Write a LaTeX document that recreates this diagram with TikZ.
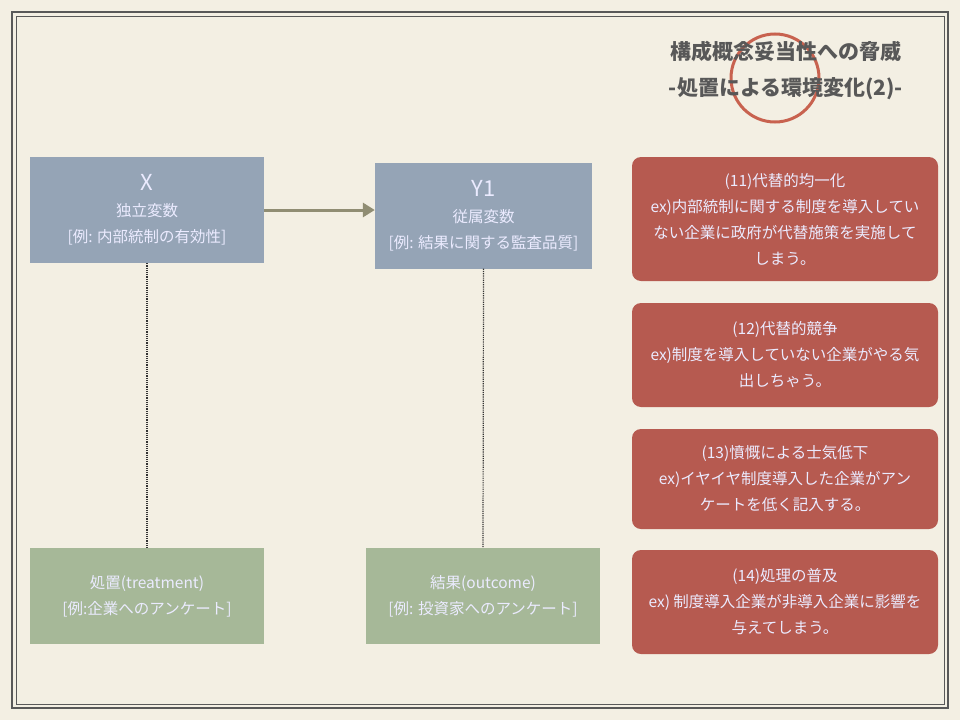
\documentclass[tikz,border=0pt]{standalone}
\usepackage{fontspec}
\setmainfont{Liberation Serif}
\newfontfamily\jpfont{Noto Sans CJK JP}
\usetikzlibrary{positioning, calc, arrows.meta}
\definecolor{paper}{HTML}{F3EFE3}
\definecolor{varblue}{HTML}{95A4B6}
\definecolor{trgreen}{HTML}{A6B898}
\definecolor{threatred}{HTML}{B65A50}
\definecolor{ringred}{HTML}{C8624F}
\definecolor{titlegray}{HTML}{585858}
\begin{document}
\begin{tikzpicture}[x=1pt, y=-1pt,
    every node/.style={font=\jpfont\fontsize{15.5}{26}\selectfont, text=white!92!blue},
    >=latex,
    varbox/.style={rectangle, fill=varblue, align=center, minimum width=234pt, minimum height=106pt},
    trbox/.style={rectangle, fill=trgreen, align=center, minimum width=234pt, minimum height=96pt},
    threat/.style={rectangle, fill=threatred, rounded corners=9pt, align=center, minimum width=306pt},
    line/.style={draw, -{Triangle[length=12pt,width=14pt]}, line width=3pt, draw=gray!80!olive}]

% Background and frame
\fill[paper] (0,0) rectangle (960,720);
\draw[gray!70!black, line width=1.2pt] (12,12) rectangle (948,708);
\draw[gray!70!black, line width=0.5pt] (16,16) rectangle (944,704);

% Title
\draw[ringred, line width=3pt] (775,78) circle (44);
\node[font=\jpfont\bfseries\fontsize{21}{36}\selectfont, text=titlegray, align=center] (title) at (786,70) {構成概念妥当性への脅威\\-処置による環境変化(2)-};

% Variables
\node[varbox] (x) at (147,210) {\fontsize{22}{24}\selectfont X\\独立変数\\{}[例: 内部統制の有効性]};
\node[varbox, minimum width=217pt] (y) at (483.5,215.5) {\fontsize{22}{24}\selectfont Y1\\従属変数\\{}[例: 結果に関する監査品質]};
\node[trbox] (treat) at (147,596) {処置(treatment)\\{}[例:企業へのアンケート]};
\node[trbox] (outc) at (483,596) {結果(outcome)\\{}[例: 投資家へのアンケート]};

% Threats
\node[threat, minimum height=124pt] (t11) at (785,219) {(11)代替的均一化\\ex)内部統制に関する制度を導入してい\\ない企業に政府が代替施策を実施して\\しまう。};
\node[threat, minimum height=104pt] (t12) at (785,355) {(12)代替的競争\\ex)制度を導入していない企業がやる気\\出しちゃう。};
\node[threat, minimum height=100pt] (t13) at (785,479) {(13)憤慨による士気低下\\ex)イヤイヤ制度導入した企業がアン\\ケートを低く記入する。};
\node[threat, minimum height=104pt] (t14) at (785,602) {(14)処理の普及\\ex) 制度導入企業が非導入企業に影響を\\与えてしまう。};

% Paths
\draw[line] (x.east) -- (x.east -| y.west);
\draw[densely dotted, line width=1.2pt, black!80] (x.south) -- (treat.north);
\draw[densely dotted, line width=1.2pt, black!80] (y.south) -- (outc.north);
\end{tikzpicture}
\end{document}
